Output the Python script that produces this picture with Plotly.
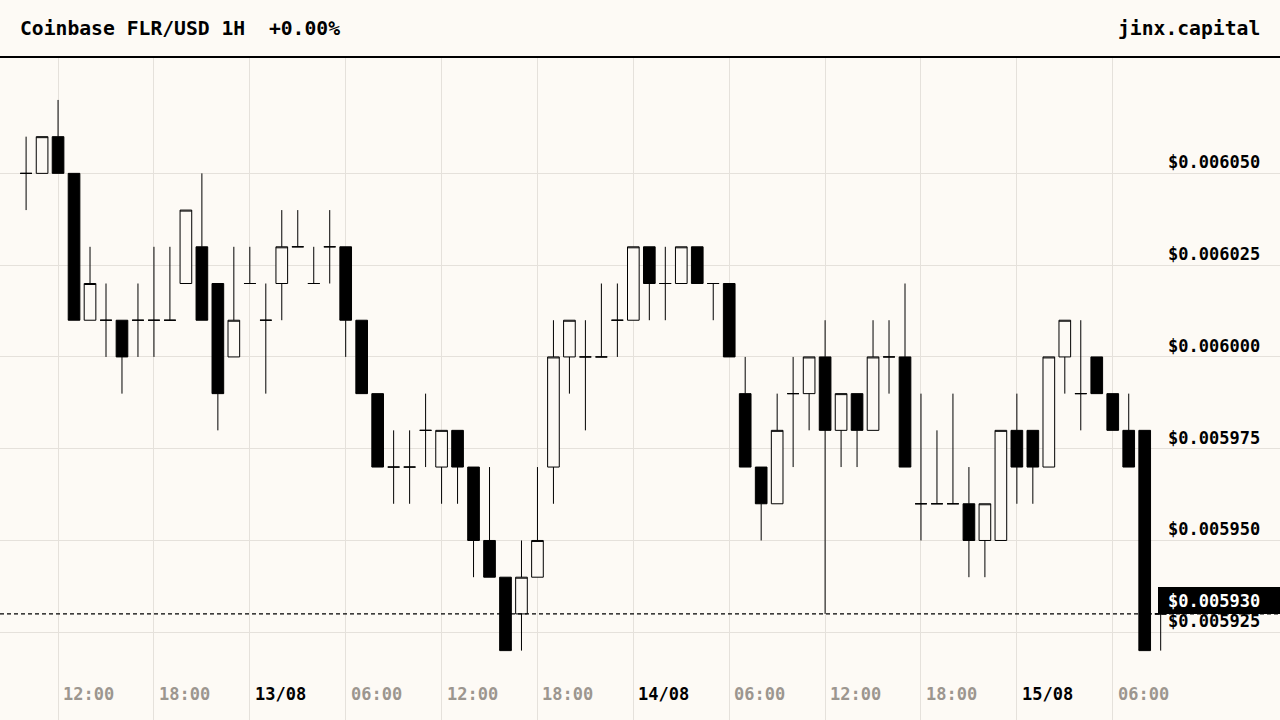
import pandas as pd
import plotly.graph_objects as go

BG = "#fdfaf5"
GRID = "#e5e1db"
MUTED = "#9c968f"
FONT = "DejaVu Sans Mono"

# hourly candles, Coinbase FLR/USD
times = pd.date_range("2024-08-12 10:00", periods=72, freq="h")
opens = [
    0.00605, 0.00605, 0.00606, 0.00605, 0.00601, 0.00601, 0.00601, 0.00601, 0.00601, 0.00601,
    0.00602, 0.00603, 0.00602, 0.00600, 0.00602, 0.00601, 0.00602, 0.00603, 0.00602, 0.00603,
    0.00603, 0.00601, 0.00599, 0.00597, 0.00597, 0.00598, 0.00597, 0.00598, 0.00597, 0.00595,
    0.00594, 0.00593, 0.00594, 0.00597, 0.00600, 0.00600, 0.00600, 0.00601, 0.00601, 0.00603,
    0.00602, 0.00602, 0.00603, 0.00602, 0.00602, 0.00599, 0.00597, 0.00596, 0.00599, 0.00599,
    0.00600, 0.00598, 0.00599, 0.00598, 0.00600, 0.00600, 0.00596, 0.00596, 0.00596, 0.00596,
    0.00595, 0.00595, 0.00598, 0.00598, 0.00597, 0.00600, 0.00599, 0.00600, 0.00599, 0.00598,
    0.00598, 0.00593,
]
highs = [
    0.00606, 0.00606, 0.00607, 0.00605, 0.00603, 0.00602, 0.00601, 0.00602, 0.00603, 0.00603,
    0.00604, 0.00605, 0.00602, 0.00603, 0.00603, 0.00602, 0.00604, 0.00604, 0.00603, 0.00604,
    0.00603, 0.00601, 0.00599, 0.00598, 0.00598, 0.00599, 0.00598, 0.00598, 0.00597, 0.00597,
    0.00594, 0.00595, 0.00597, 0.00601, 0.00601, 0.00601, 0.00602, 0.00602, 0.00603, 0.00603,
    0.00603, 0.00603, 0.00603, 0.00602, 0.00602, 0.00600, 0.00597, 0.00599, 0.00600, 0.00600,
    0.00601, 0.00599, 0.00599, 0.00601, 0.00601, 0.00602, 0.00599, 0.00598, 0.00599, 0.00597,
    0.00596, 0.00598, 0.00599, 0.00598, 0.00600, 0.00601, 0.00601, 0.00600, 0.00599, 0.00599,
    0.00598, 0.00593,
]
lows = [
    0.00604, 0.00605, 0.00605, 0.00601, 0.00601, 0.00600, 0.00599, 0.00600, 0.00600, 0.00601,
    0.00602, 0.00601, 0.00598, 0.00600, 0.00602, 0.00599, 0.00601, 0.00603, 0.00602, 0.00602,
    0.00600, 0.00599, 0.00597, 0.00596, 0.00596, 0.00597, 0.00596, 0.00596, 0.00594, 0.00594,
    0.00592, 0.00592, 0.00594, 0.00596, 0.00599, 0.00598, 0.00600, 0.00600, 0.00601, 0.00601,
    0.00601, 0.00602, 0.00602, 0.00601, 0.00600, 0.00597, 0.00595, 0.00596, 0.00597, 0.00598,
    0.00593, 0.00597, 0.00597, 0.00598, 0.00599, 0.00597, 0.00595, 0.00596, 0.00596, 0.00594,
    0.00594, 0.00595, 0.00596, 0.00596, 0.00597, 0.00599, 0.00598, 0.00599, 0.00598, 0.00597,
    0.00592, 0.00592,
]
closes = [
    0.00605, 0.00606, 0.00605, 0.00601, 0.00602, 0.00601, 0.00600, 0.00601, 0.00601, 0.00601,
    0.00604, 0.00601, 0.00599, 0.00601, 0.00602, 0.00601, 0.00603, 0.00603, 0.00602, 0.00603,
    0.00601, 0.00599, 0.00597, 0.00597, 0.00597, 0.00598, 0.00598, 0.00597, 0.00595, 0.00594,
    0.00592, 0.00594, 0.00595, 0.00600, 0.00601, 0.00600, 0.00600, 0.00601, 0.00603, 0.00602,
    0.00602, 0.00603, 0.00602, 0.00602, 0.00600, 0.00597, 0.00596, 0.00598, 0.00599, 0.00600,
    0.00598, 0.00599, 0.00598, 0.00600, 0.00600, 0.00597, 0.00596, 0.00596, 0.00596, 0.00595,
    0.00596, 0.00598, 0.00597, 0.00597, 0.00600, 0.00601, 0.00599, 0.00599, 0.00598, 0.00597,
    0.00592, 0.00593,
]

price_ticks = [0.005925, 0.005950, 0.005975, 0.006000, 0.006025, 0.006050]
time_ticks = pd.date_range("2024-08-12 12:00", "2024-08-15 06:00", freq="6h")

last_price = closes[-1]

fig = go.Figure()

fig.add_trace(
    go.Candlestick(
        x=times,
        open=opens,
        high=highs,
        low=lows,
        close=closes,
        increasing=dict(line=dict(color="black", width=1), fillcolor=BG),
        decreasing=dict(line=dict(color="black", width=1), fillcolor="black"),
        whiskerwidth=0,
        hoverinfo="skip",
        showlegend=False,
    )
)

# current price line + label
fig.add_shape(
    type="line", xref="paper", x0=0, x1=1, yref="y", y0=last_price, y1=last_price,
    line=dict(color="black", width=1.2, dash="4px,3px"),
)
fig.add_shape(
    type="rect", xref="paper", x0=1158 / 1280, x1=1,
    yref="y", ysizemode="pixel", yanchor=last_price, y0=0, y1=27,
    fillcolor="black", line=dict(width=0),
)

annotations = []
for v in price_ticks:
    annotations.append(dict(
        x=1, xref="paper", xanchor="right", xshift=-18,
        y=v, yref="y", yanchor="middle", yshift=11,
        text=f"${v:.6f}", showarrow=False,
        font=dict(family=FONT, size=17, color="black", weight="bold"),
    ))
annotations.append(dict(
    x=1, xref="paper", xanchor="right", xshift=-18,
    y=last_price, yref="y", yanchor="middle", yshift=13,
    text=f"${last_price:.6f}", showarrow=False,
    font=dict(family=FONT, size=17, color="white", weight="bold"),
))

for t in time_ticks:
    is_day = t.hour == 0
    annotations.append(dict(
        x=t, xref="x", xanchor="left", xshift=3,
        y=0, yref="paper", yanchor="middle", yshift=26,
        text=t.strftime("%d/%m") if is_day else t.strftime("%H:%M"),
        showarrow=False,
        font=dict(family=FONT, size=17, color="black" if is_day else MUTED, weight="bold"),
    ))

# header
annotations.append(dict(
    x=0, xref="paper", xanchor="left", xshift=18,
    y=1, yref="paper", yanchor="middle", yshift=29,
    text="Coinbase FLR/USD 1H\u00a0 +0.00%", showarrow=False,
    font=dict(family=FONT, size=19.7, color="black", weight="bold"),
))
annotations.append(dict(
    x=1, xref="paper", xanchor="right", xshift=-18,
    y=1, yref="paper", yanchor="middle", yshift=29,
    text="jinx.capital", showarrow=False,
    font=dict(family=FONT, size=19.7, color="black", weight="bold"),
))

fig.add_shape(
    type="line", xref="paper", x0=0, x1=1, yref="paper", y0=1, y1=1,
    line=dict(color="black", width=2),
)

fig.update_layout(
    width=1280,
    height=720,
    margin=dict(l=0, r=0, t=57, b=0),
    paper_bgcolor=BG,
    plot_bgcolor=BG,
    boxgap=0.27,
    boxgroupgap=0,
    annotations=annotations,
    xaxis=dict(
        range=["2024-08-12 08:22", "2024-08-15 16:28"],
        tickvals=list(time_ticks),
        showticklabels=False,
        showgrid=True,
        gridcolor=GRID,
        gridwidth=1,
        zeroline=False,
        rangeslider=dict(visible=False),
        fixedrange=True,
    ),
    yaxis=dict(
        range=[0.0059011, 0.0060817],
        tickvals=price_ticks,
        showticklabels=False,
        showgrid=True,
        gridcolor=GRID,
        gridwidth=1,
        zeroline=False,
        fixedrange=True,
    ),
)

# drop the default page margin so the figure sits at the window's corner
fig.write_html(
    "out.html",
    config={"displayModeBar": False},
    post_script="document.body.style.margin='0';document.body.style.background='" + BG + "';",
)
